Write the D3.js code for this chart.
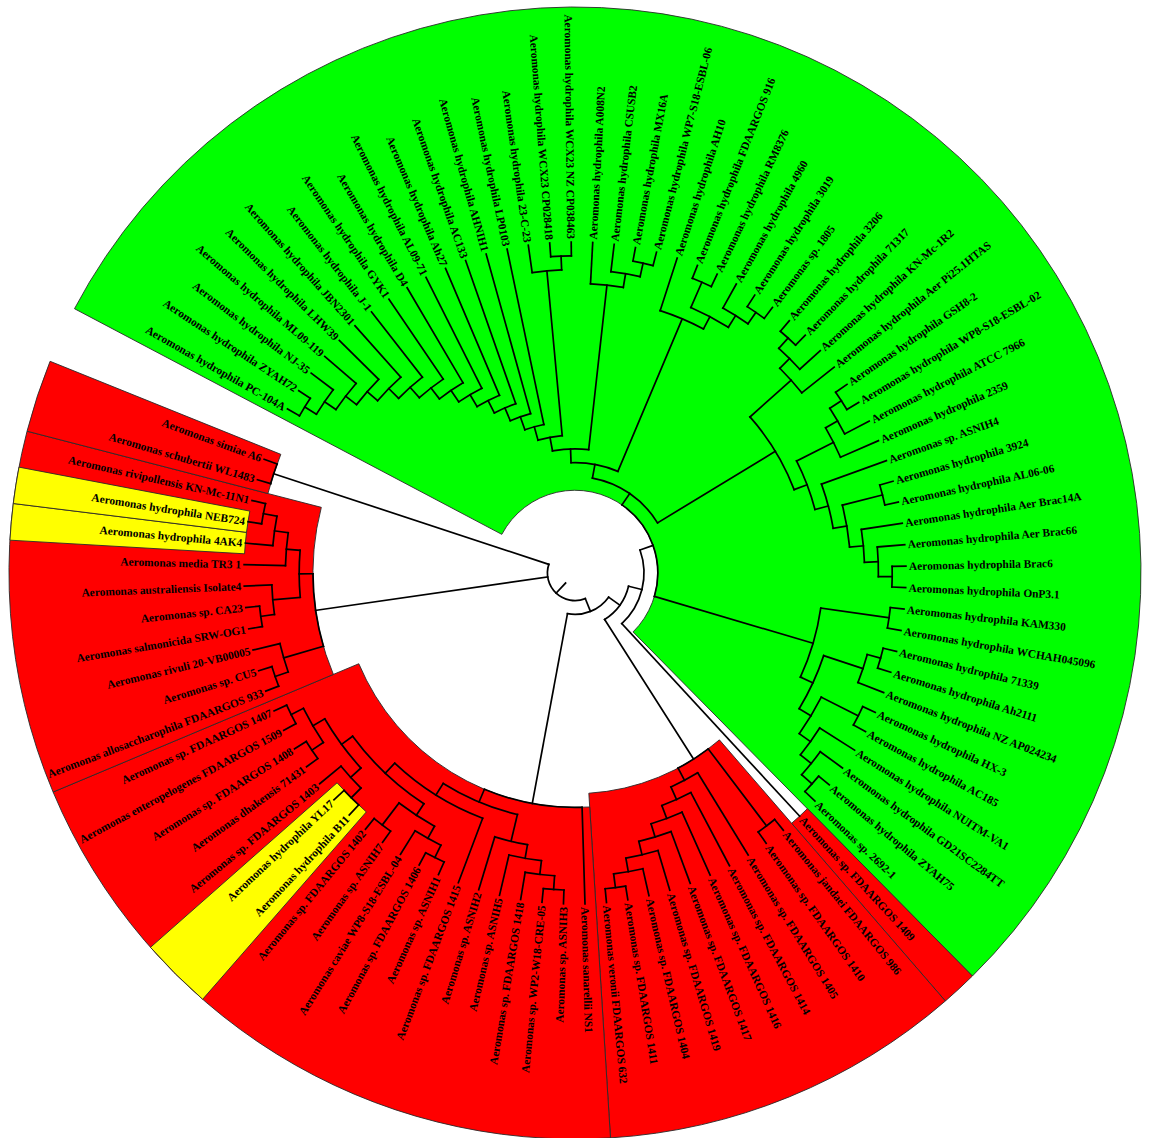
<!DOCTYPE html>
<html>
<head>
<meta charset="utf-8">
<script src="https://cdn.jsdelivr.net/npm/d3@7"></script>
<style>
  body { margin: 0; background: #ffffff; }
  svg { display: block; }
</style>
</head>
<body>
<svg id="chart" width="1152" height="1138"></svg>
<script>
// ---- Leaf labels, in the order they appear around the circle (clockwise) ----
const leafLabels = [
  "Aeromonas hydrophila PC-104A", "Aeromonas hydrophila ZYAH72", "Aeromonas hydrophila NJ-35",
  "Aeromonas hydrophila ML09-119", "Aeromonas hydrophila LHW39", "Aeromonas hydrophila JBN2301",
  "Aeromonas hydrophila J-1", "Aeromonas hydrophila GYK1", "Aeromonas hydrophila D4",
  "Aeromonas hydrophila AL09-71", "Aeromonas hydrophila Ah27", "Aeromonas hydrophila AC133",
  "Aeromonas hydrophila AHNIH1", "Aeromonas hydrophila LP0103", "Aeromonas hydrophila 23-C-23",
  "Aeromonas hydrophila WCX23 CP028418", "Aeromonas hydrophila WCX23 NZ CP038463",
  "Aeromonas hydrophila A008N2", "Aeromonas hydrophila CSUSB2", "Aeromonas hydrophila MX16A",
  "Aeromonas hydrophila WP7-S18-ESBL-06", "Aeromonas hydrophila AH10",
  "Aeromonas hydrophila FDAARGOS 916", "Aeromonas hydrophila RM8376", "Aeromonas hydrophila 4960",
  "Aeromonas hydrophila 3019", "Aeromonas sp. 1805", "Aeromonas hydrophila 3206",
  "Aeromonas hydrophila 71317", "Aeromonas hydrophila KN-Mc-1R2", "Aeromonas hydrophila Aer Pi25.1HTAS",
  "Aeromonas hydrophila GSH8-2", "Aeromonas hydrophila WP8-S18-ESBL-02", "Aeromonas hydrophila ATCC 7966",
  "Aeromonas hydrophila 2359", "Aeromonas sp. ASNIH4", "Aeromonas hydrophila 3924",
  "Aeromonas hydrophila AL06-06", "Aeromonas hydrophila Aer Brac14A", "Aeromonas hydrophila Aer Brac66",
  "Aeromonas hydrophila Brac6", "Aeromonas hydrophila OnP3.1", "Aeromonas hydrophila KAM330",
  "Aeromonas hydrophila WCHAH045096", "Aeromonas hydrophila 71339", "Aeromonas hydrophila Ah2111",
  "Aeromonas hydrophila NZ AP024234", "Aeromonas hydrophila HX-3", "Aeromonas hydrophila AC185",
  "Aeromonas hydrophila NUITM-VA1", "Aeromonas hydrophila GD21SC2284TT", "Aeromonas hydrophila ZYAH75",
  "Aeromonas sp. 2692-1",
  "Aeromonas sp. FDAARGOS 1409", "Aeromonas jandaei FDAARGOS 986", "Aeromonas sp. FDAARGOS 1410",
  "Aeromonas sp. FDAARGOS 1405", "Aeromonas sp. FDAARGOS 1414", "Aeromonas sp. FDAARGOS 1416",
  "Aeromonas sp. FDAARGOS 1417", "Aeromonas sp. FDAARGOS 1419", "Aeromonas sp. FDAARGOS 1404",
  "Aeromonas sp. FDAARGOS 1411", "Aeromonas veronii FDAARGOS 632", "Aeromonas sanarellii NS1",
  "Aeromonas sp. ASNIH3", "Aeromonas sp. WP2-W18-CRE-05", "Aeromonas sp. FDAARGOS 1418",
  "Aeromonas sp. ASNIH5", "Aeromonas sp. ASNIH2", "Aeromonas sp. FDAARGOS 1415",
  "Aeromonas sp. ASNIH1", "Aeromonas sp. FDAARGOS 1406", "Aeromonas caviae WP8-S18-ESBL-04",
  "Aeromonas sp. ASNIH7", "Aeromonas sp. FDAARGOS 1402", "Aeromonas hydrophila B11",
  "Aeromonas hydrophila YL17", "Aeromonas sp. FDAARGOS 1403", "Aeromonas dhakensis 71431",
  "Aeromonas sp. FDAARGOS 1408", "Aeromonas enteropelogenes FDAARGOS 1509", "Aeromonas sp. FDAARGOS 1407",
  "Aeromonas allosaccharophila FDAARGOS 933", "Aeromonas sp. CU5", "Aeromonas rivuli 20-VB00005",
  "Aeromonas salmonicida SRW-OG1", "Aeromonas sp. CA23", "Aeromonas australiensis Isolate4",
  "Aeromonas media TR3 1", "Aeromonas hydrophila 4AK4", "Aeromonas hydrophila NEB724",
  "Aeromonas rivipollensis KN-Mc-11N1", "Aeromonas schubertii WL1483", "Aeromonas simiae A6"
];

// ---- Tree topology: nested arrays of leaf indices (cladogram, leaves aligned) ----
const hydrophilaLadder = [[[[[[[[[[[[[0, 1], 2], 3], 4], 5], 6], 7], 8], 9], 10], 11], 12], 13];
const wcx23Group      = [14, [15, 16]];
const a008Group       = [17, [18, [19, 20]]];
const ah10Group       = [21, [[22, 23], [24, [25, 26]]]];
const strain3206Group = [[[27, 28], 29], 30];
const atccGroup       = [[[[31, 32], 33], 34], [35, [[36, 37], [38, [39, [40, 41]]]]]];
const kam330Group     = [[42, 43], [[[44, 45], 46], [[47, 48], [49, [50, [51, 52]]]]]];
const hydrophilaClade = [
  [[[[hydrophilaLadder, wcx23Group], a008Group], ah10Group], [strain3206Group, atccGroup]],
  kam330Group
];
const veroniiClade    = [[54, 55], [56, [57, [58, [59, [60, [61, [62, 63]]]]]]]];
const asnih3Group     = [[[[65, 66], 67], 68], 69];
const asnih7Group     = [[[71, 72], 73], [74, 75]];
const dhakensisGroup  = [[[76, 77], 78], [[79, 80], [81, 82]]];
const sanarelliiClade = [64, [asnih3Group, [70, [asnih7Group, dhakensisGroup]]]];
const mediaGroup      = [[[86, 87], 88], [89, [90, [91, 92]]]];
const rivuliClade     = [[[83, 84], 85], mediaGroup];
const treeTopology = [
  [[[hydrophilaClade, 53], veroniiClade], sanarelliiClade],
  rivuliClade,
  [93, 94]
];

// ---- Highlighted ranges (first leaf, last leaf, fill) ----
const rangeFrom    = [0, 53, 54, 64, 83, 93, 76, 90, 91];
const rangeTo      = [52, 53, 63, 82, 92, 94, 77, 90, 91];
const rangeColours = ["#00ff00", "#ff0000", "#ff0000", "#ff0000", "#ff0000", "#ff0000",
                      "#ffff00", "#ffff00", "#ffff00"];

// ---- Layout ----
const width = 1152, height = 1138;
const cx = 575, cy = 573;
const leafRadius = 331, outerRadius = 566;
const firstAngle = 209.7, arcSpan = 350.4;       // degrees, clockwise from 3 o'clock

const svg = d3.select("#chart");
const g = svg.append("g").attr("transform", `translate(${cx},${cy})`);

const root = d3.hierarchy(treeTopology, d => Array.isArray(d) ? d : null);
const nLeaves = leafLabels.length;
const rootLevels = root.height + 2;

const angleScale  = d3.scaleLinear().domain([0, nLeaves - 1]).range([firstAngle, firstAngle + arcSpan]);
const radiusScale = d3.scaleLinear().domain([0, rootLevels]).range([leafRadius, 0]);
const halfStep = arcSpan / (nLeaves - 1) / 2;

root.eachAfter(node => {
  if (!node.children) {
    node.angle = angleScale(node.data);
  } else {
    const angles = node.children.map(c => c.angle);
    node.angle = (d3.min(angles) + d3.max(angles)) / 2;
  }
  node.radius = radiusScale(node.height);
});

const rad = a => a * Math.PI / 180;
const px = (r, a) => r * Math.cos(rad(a));
const py = (r, a) => r * Math.sin(rad(a));

// leaf lookup and common ancestor for each range
const leafNode = new Map(root.leaves().map(l => [l.data, l]));
function commonAncestor(a, b) {
  const anc = new Set(a.ancestors());
  return b.ancestors().find(n => anc.has(n));
}

// ---- Coloured ranges ----
const arcGen = d3.arc();
const ranges = rangeFrom.map((f, i) => {
  const lca = commonAncestor(leafNode.get(f), leafNode.get(rangeTo[i]));
  return {
    inner: lca.radius,
    start: angleScale(f) - halfStep,
    end: angleScale(rangeTo[i]) + halfStep,
    colour: rangeColours[i]
  };
});
g.append("g").selectAll("path").data(ranges).join("path")
  .attr("d", d => arcGen({
    innerRadius: d.inner, outerRadius: outerRadius,
    startAngle: rad(d.start + 90), endAngle: rad(d.end + 90)
  }))
  .attr("fill", d => d.colour)
  .attr("stroke", "#2a2a2a")
  .attr("stroke-width", 0.9);

// ---- Branches ----
const branches = g.append("g")
  .attr("fill", "none")
  .attr("stroke", "#000")
  .attr("stroke-width", 1.7)
  .attr("stroke-linecap", "square");

// radial segments
branches.selectAll("path.radial").data(root.descendants().filter(d => d.parent)).join("path")
  .attr("class", "radial")
  .attr("d", d => `M${px(d.parent.radius, d.angle)},${py(d.parent.radius, d.angle)}L${px(d.radius, d.angle)},${py(d.radius, d.angle)}`);

// root stem
branches.append("path")
  .attr("d", `M${px(radiusScale(rootLevels - 1), root.angle)},${py(radiusScale(rootLevels - 1), root.angle)}L${px(root.radius, root.angle)},${py(root.radius, root.angle)}`);

// arcs joining children
branches.selectAll("path.arc").data(root.descendants().filter(d => d.children)).join("path")
  .attr("class", "arc")
  .attr("d", d => {
    const angles = d.children.map(c => c.angle);
    const a0 = d3.min(angles), a1 = d3.max(angles), r = d.radius;
    const large = (a1 - a0) > 180 ? 1 : 0;
    return `M${px(r, a0)},${py(r, a0)}A${r},${r} 0 ${large} 1 ${px(r, a1)},${py(r, a1)}`;
  });

// ---- Leaf labels ----
g.append("g").selectAll("text").data(root.leaves()).join("text")
  .attr("transform", d => {
    const a = ((d.angle % 360) + 360) % 360;
    const flip = a > 90 && a < 270;
    return `rotate(${a}) translate(${leafRadius + 3},0)` + (flip ? " rotate(180)" : "");
  })
  .attr("text-anchor", d => {
    const a = ((d.angle % 360) + 360) % 360;
    return (a > 90 && a < 270) ? "end" : "start";
  })
  .attr("dy", "0.35em")
  .attr("font-family", "'Liberation Serif', 'Times New Roman', serif")
  .attr("font-weight", "bold")
  .attr("font-size", 11.4)
  .attr("fill", "#000")
  .text(d => leafLabels[d.data]);
</script>
</body>
</html>
